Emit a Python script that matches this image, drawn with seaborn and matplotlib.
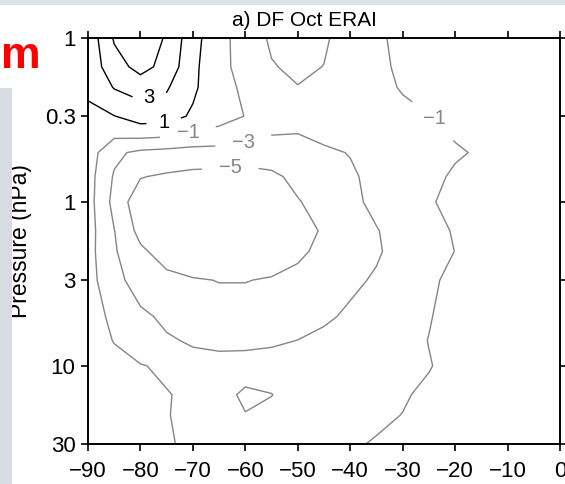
import numpy as np
import seaborn as sns
import matplotlib
matplotlib.use("Agg")
import matplotlib.pyplot as plt
from matplotlib.patches import Rectangle
from matplotlib.ticker import FixedLocator, FixedFormatter, NullLocator

# ---- data -------------------------------------------------------------
latitudes = [-90, -85, -80, -75, -70, -65, -60, -55, -50, -45,
             -40, -35, -30, -25, -20, -15, -10, -5, 0]
pressure_hpa = [0.1, 0.15, 0.2, 0.3, 0.5, 0.7, 1, 1.5, 2, 3, 5, 7, 10, 15, 20, 30]

# DF (October, ERA-Interim) on each pressure level, south pole -> equator
df_0p1 = [1.65, 5.2, 6.5, 4.76, 1.73, -0.42, -1.8, -0.8, -0.5, -0.8, -1.7, -1.2, -0.7, -0.5, -0.4, -0.3, -0.3, -0.2, -0.1]
df_0p15 = [1.8, 4.1, 5.7, 4.3, 1.5, -0.6, -1.5, -1.1, -0.7, -1.03, -1.6, -1.3, -0.76, -0.55, -0.45, -0.35, -0.3, -0.25, -0.15]
df_0p2 = [1.5, 3.1, 3.7, 3.2, 1.3, -0.2, -1.4, -1.3, -1.05, -1.3, -1.7, -1.4, -0.89, -0.65, -0.5, -0.4, -0.35, -0.3, -0.2]
df_0p3 = [0.3, 0.95, 1.9, 1.8, 0.72, -0.2, -1.05, -2.2, -2.5, -2.4, -2.2, -1.8, -1.4, -1.05, -0.7, -0.5, -0.4, -0.35, -0.3]
df_0p5 = [0.0, -2.6, -3.43, -3.7, -3.9, -3.8, -4.05, -3.95, -3.7, -3.2, -2.95, -2.4, -1.9, -1.5, -1.15, -0.85, -0.6, -0.5, -0.4]
df_0p7 = [-0.2, -3.2, -4.9, -5.27, -5.54, -5.7, -5.81, -5.43, -4.45, -3.8, -3.2, -2.6, -2.0, -1.4, -0.79, -0.6, -0.5, -0.4, -0.35]
df_1 = [-0.2, -3.6, -6.3, -6.6, -6.8, -6.9, -6.7, -6.0, -5.15, -4.08, -3.4, -2.6, -1.9, -1.1, -0.72, -0.55, -0.45, -0.4, -0.35]
df_1p5 = [-0.2, -2.95, -5.63, -6.3, -6.6, -6.7, -6.5, -6.1, -5.6, -4.83, -4.0, -3.1, -2.2, -1.5, -0.875, -0.6, -0.5, -0.45, -0.4]
df_2 = [-0.3, -2.8, -4.6, -6.0, -6.3, -6.2, -6.0, -5.8, -5.3, -4.6, -3.8, -3.15, -2.5, -1.6, -0.98, -0.7, -0.55, -0.5, -0.45]
df_3 = [-0.3, -2.3, -4.0, -4.3, -4.85, -5.05, -5.05, -4.87, -4.5, -3.9, -3.3, -2.83, -2.0, -1.2, -0.72, -0.55, -0.5, -0.45, -0.4]
df_5 = [-0.5, -1.25, -2.5, -3.5, -4.0, -4.2, -4.2, -4.0, -3.8, -3.3, -2.7, -2.0, -1.5, -1.05, -0.7, -0.5, -0.45, -0.4, -0.35]
df_7 = [-0.4, -1.05, -2.0, -2.7, -3.3, -3.5, -3.5, -3.3, -2.98, -2.5, -2.0, -1.6, -1.3, -0.98, -0.7, -0.5, -0.45, -0.4, -0.35]
df_10 = [-0.3, -0.6, -0.9, -1.3, -2.0, -2.2, -2.1, -2.05, -2.0, -1.8, -1.6, -1.4, -1.2, -1.05, -0.7, -0.5, -0.4, -0.35, -0.3]
df_15 = [-0.2, -0.4, -0.6, -0.9, -1.4, -2.2, -3.4, -3.05, -2.0, -1.7, -1.5, -1.3, -1.1, -0.8, -0.6, -0.45, -0.4, -0.35, -0.3]
df_20 = [-0.2, -0.4, -0.6, -0.95, -1.3, -1.9, -2.91, -2.4, -1.9, -1.6, -1.4, -1.2, -0.98, -0.7, -0.5, -0.4, -0.35, -0.3, -0.3]
df_30 = [-0.3, -0.5, -0.7, -0.9, -1.2, -1.5, -1.7, -1.7, -1.6, -1.4, -1.15, -0.9, -0.7, -0.5, -0.4, -0.35, -0.3, -0.3, -0.25]

negative_levels = [-5, -3, -1]
positive_levels = [1, 3, 5]

x_ticks = [-90, -80, -70, -60, -50, -40, -30, -20, -10, 0]
pressure_ticks = [0.1, 0.3, 1, 3, 10, 30]
pressure_tick_labels = ["1", "0.3", "1", "3", "10", "30"]

# ---- style ------------------------------------------------------------
sns.set_theme(style="ticks", rc={
    "axes.edgecolor": "black", "xtick.color": "black", "ytick.color": "black",
    "text.color": "black", "axes.labelcolor": "black",
})
plt.rcParams["font.family"] = ["Liberation Sans", "DejaVu Sans"]

fig = plt.figure(figsize=(5.65, 4.84), dpi=100)
fig.patch.set_facecolor("white")

# slide background behind the figure
fig.patches.append(Rectangle((0, 1 - 5 / 484), 1, 5 / 484, transform=fig.transFigure,
                             facecolor="#dde2e8", edgecolor="none", zorder=0))
fig.patches.append(Rectangle((0, 0), 12 / 565, 1 - 88 / 484, transform=fig.transFigure,
                             facecolor="#d8dce1", edgecolor="none", zorder=0))
fig.text(0.5 / 565, 1 - 68 / 484, "m", color="#ff0000", fontsize=32,
         fontweight="bold", ha="left", va="baseline")

ax = fig.add_axes([88 / 565, 1 - 444 / 484, 472 / 565, 406 / 484])
ax.set_yscale("log")
ax.set_xlim(-90, 0)
ax.set_ylim(30, 0.1)

field = np.array([df_0p1, df_0p15, df_0p2, df_0p3, df_0p5, df_0p7, df_1, df_1p5,
                  df_2, df_3, df_5, df_7, df_10, df_15, df_20, df_30])

cs_neg = ax.contour(latitudes, pressure_hpa, field, levels=negative_levels,
                    colors="#858585", linewidths=1.0, linestyles="solid")
cs_pos = ax.contour(latitudes, pressure_hpa, field, levels=positive_levels,
                    colors="black", linewidths=1.0, linestyles="solid")
ax.set_xlim(-90, 0)
ax.set_ylim(30, 0.1)

# ---- axes -------------------------------------------------------------
ax.xaxis.set_major_locator(FixedLocator(x_ticks))
ax.yaxis.set_major_locator(FixedLocator(pressure_ticks))
ax.yaxis.set_major_formatter(FixedFormatter(pressure_tick_labels))
ax.yaxis.set_minor_locator(NullLocator())
ax.xaxis.set_minor_locator(NullLocator())
ax.tick_params(axis="both", which="major", direction="out", length=5, width=1.2,
               labelsize=16, top=True, right=True, labeltop=False, labelright=False)
ax.tick_params(axis="x", pad=7)
ax.tick_params(axis="y", pad=4)
for spine in ax.spines.values():
    spine.set_visible(True)
    spine.set_linewidth(1.4)
    spine.set_color("black")
ax.set_facecolor("white")
ax.grid(False)

ax.set_ylabel("Pressure (hPa)", fontsize=16.5)
ax.yaxis.set_label_coords(-0.1186, 0.5)
ax.text(0.4576, 1.0296, "a) DF Oct ERAI", transform=ax.transAxes,
        ha="center", va="baseline", fontsize=15)


# ---- contour labels ---------------------------------------------------
def level_text(value):
    return f"{value:.0f}".replace("-", "\u2212")


cs_pos.clabel(manual=[(-78.2, 0.239), (-75.5, 0.325)], fontsize=14.5,
              inline_spacing=12, fmt=level_text, colors=["black"] * 3)
cs_neg.clabel(manual=[(-70.9, 0.385), (-23.5, 0.303), (-60.4, 0.419), (-62.9, 0.603)],
              fontsize=14.5, inline_spacing=17, fmt=level_text, colors=["#858585"] * 3)
for t in list(cs_pos.labelTexts) + list(cs_neg.labelTexts):
    t.set_rotation(0)

fig.savefig("out.png", dpi=100, facecolor="white")
